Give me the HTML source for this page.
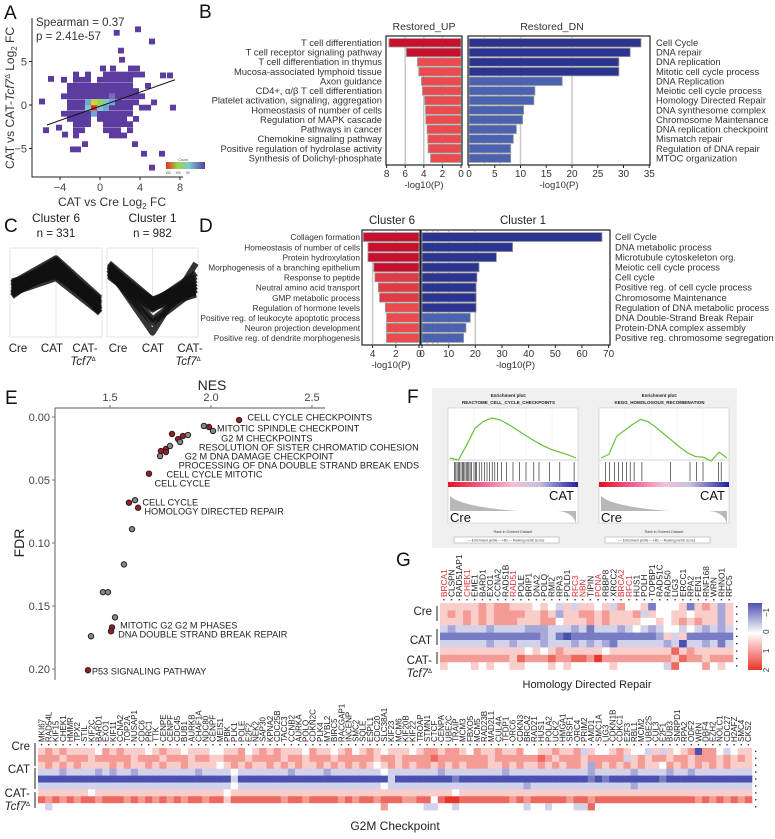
<!DOCTYPE html>
<html><head><meta charset="utf-8">
<style>
html,body{margin:0;padding:0;background:#fff;}
svg{display:block;font-family:"Liberation Sans",Arial,sans-serif;}
</style></head>
<body>
<svg id="fig" width="775" height="839" viewBox="0 0 775 839" xmlns="http://www.w3.org/2000/svg">
<g id="panelA"></g>
<g id="panelB"></g>
<g id="panelC"></g>
<g id="panelD"></g>
<g id="panelE"></g>
<g id="panelF"></g>
<g id="panelG"></g>
<g id="panelH"></g>
</svg>
<script>
// ---------- DATA ----------
const binRows = [
 [4.2,[0.3,1.3,3.1,3.7]],
 [3.5,[-2.4,-1.2,0.6,1.2,1.8,2.4,3.0,3.6,4.2]],
 [2.9,[-3.6,-2.4,-1.8,-1.2,0.0,0.6,1.2,1.8,2.4,3.0]],
 [2.2,[-3.0,-2.4,-1.8,-1.2,-0.6,0.0,0.6,1.2,1.8,2.4,3.0,4.8]],
 [1.6,[-3.0,-2.4,-1.8,-1.2,-0.6,0.0,0.6,1.2,1.8,2.4,3.0,3.6]],
 [1.0,[-3.6,-3.0,-2.4,-1.8,-1.2,-0.6,0.0,0.6,1.2,1.8,2.4,3.0,3.6,4.2]],
 [0.3,[-3.0,-2.4,-1.8,-1.2,-0.6,0.0,0.6,1.2,1.8,2.4,3.0,3.6,5.4]],
 [-0.3,[-3.0,-2.4,-1.8,-1.2,-0.6,0.0,0.6,1.2,1.8,2.4,3.0,4.2,4.8]],
 [-1.0,[-3.6,-3.0,-2.4,-1.8,-1.2,-0.6,0.0,0.6,1.2,1.8,2.4,3.0]],
 [-1.6,[-3.0,-2.4,-1.8,-1.2,0.0,0.6,1.2,1.8,2.4,3.6]],
 [-2.2,[-2.4,-1.8,-1.2,0.6,1.2,1.8,2.4,3.0]],
 [-2.9,[-2.4,-1.8,0.6,1.2,1.8,3.0]],
 [-3.5,[-2.4,1.2,1.8,2.4]]
];
const outX = [1.67,3.8,5.2,2.1,2.2,-4.9,-5.8,-5.4,-4.1,-3.5,-2.2,-2.7,-1.5,3.5,4.4,5.2,6.2,7.3,7.0,6.3];
const outY = [8.3,8.7,7.3,6.25,5.2,3.0,0.4,-2.9,-2.6,-3.4,-5.1,-5.1,-4.5,-4.5,-5.6,-7.2,-5.6,-0.3,3.4,3.4];
const hotX = [-0.6,-0.6,-1.2,0.0,0.6,1.2,0.6,-1.2,0.0,-0.6,1.2];
const hotY = [-0.3,0.3,-0.3,-0.3,0.3,0.3,-0.3,0.3,0.3,-1.0,1.0];
const hotCount = [150,110,70,60,55,45,40,35,80,30,25];
const regX = [-5.3,7.5];
const regY = [-2.3,2.9];
const aTicksX = [-4,0,4,8];
const aTicksY = [-5,0,5];

const bUpTerms = ["T cell differentiation","T cell receptor signaling pathway","T cell differentiation in thymus","Mucosa-associated lymphoid tissue","Axon guidance","CD4+, α/β T cell differentiation","Platelet activation, signaling, aggregation","Homeostasis of number of cells","Regulation of MAPK cascade","Pathways in cancer","Chemokine signaling pathway","Positive regulation of hydrolase activity","Synthesis of Dolichyl-phosphate"];
const bUpVals = [7.75,5.87,4.68,4.54,4.25,4.14,3.89,3.81,3.78,3.64,3.57,3.53,3.27];
const bDnTerms = ["Cell Cycle","DNA repair","DNA replication","Mitotic cell cycle process","DNA Replication","Meiotic cell cycle process","Homology Directed Repair","DNA synthesome complex","Chromosome Maintenance","DNA replication checkpoint","Mismatch repair","Regulation of DNA repair","MTOC organization"];
const bDnVals = [33.4,31.3,29.1,29.1,18.1,12.8,12.6,10.6,10.4,9.2,8.6,8.1,8.1];
const bUpTicks = [8,6,4,2,0];
const bDnTicks = [0,5,10,15,20,25,30,35];

const c6Lines = [[0.2,1.0,-0.3],[0.0,0.95,-0.5],[0.3,0.9,-0.2],[-0.1,0.85,-0.6],[0.25,0.8,-0.35],[0.1,0.75,-0.45],[0.35,0.7,-0.25],[-0.05,0.65,-0.55],[0.15,0.6,-0.4],[0.05,0.55,-0.5],[0.2,0.5,-0.3],[0.3,1.05,-0.15],[0.0,0.45,-0.6]];
const c1Lines = [[0.9,-0.2,0.3],[0.8,-0.25,0.5],[0.7,-0.3,0.1],[0.6,-0.35,0.4],[0.85,-0.4,0.2],[0.55,-0.45,-0.05],[0.75,-0.3,0.6],[0.65,-0.2,0.0],[0.5,-0.5,0.3],[0.6,-0.9,0.1],[0.7,-1.2,0.9],[0.8,-0.8,0.2]];
const cCats = ["Cre","CAT","CAT-"];

const d6Terms = ["Collagen formation","Homeostasis of number of cells","Protein hydroxylation","Morphogenesis of a branching epithelium","Response to peptide","Neutral amino acid transport","GMP metabolic process","Regulation of hormone levels","Positive reg. of leukocyte apoptotic process","Neuron projection development","Positive reg. of dendrite morphogenesis"];
const d6Vals = [4.8,4.4,4.4,3.9,3.8,3.5,3.4,2.9,2.8,2.8,2.8];
const d1Terms = ["Cell Cycle","DNA metabolic process","Microtubule cytoskeleton org.","Meiotic cell cycle process","Cell cycle","Positive reg. of cell cycle process","Chromosome Maintenance","Regulation of DNA metabolic process","DNA Double-Strand Break Repair","Protein-DNA complex assembly","Positive reg. chromosome segregation"];
const d1Vals = [67.5,34,27.9,21.4,20.6,20.3,20.3,20.3,18.1,16.5,15.6];
const d6Ticks = [4,2,0];
const d1Ticks = [0,10,20,30,40,50,60,70];

const eNES = [2.139,1.965,1.990,2.010,1.807,1.837,1.847,1.861,1.886,1.752,1.777,1.777,1.797,1.748,1.693,1.594,1.624,1.639,1.609,1.569,1.465,1.490,1.525,1.510,1.505,1.406,1.391];
const eFDR = [0.0024,0.0071,0.0079,0.0111,0.0135,0.0175,0.0198,0.0151,0.0143,0.027,0.0254,0.0278,0.023,0.031,0.045,0.068,0.066,0.072,0.089,0.117,0.139,0.139,0.159,0.167,0.170,0.174,0.201];
const eRed = [1,0,1,0,1,1,0,1,0,1,1,1,0,0,1,1,0,1,0,0,0,0,0,1,1,0,1];
const eLabels = ["CELL CYCLE CHECKPOINTS","MITOTIC SPINDLE CHECKPOINT","G2 M CHECKPOINTS","RESOLUTION OF SISTER CHROMATID COHESION","G2 M DNA DAMAGE CHECKPOINT","PROCESSING OF DNA DOUBLE STRAND BREAK ENDS","CELL CYCLE MITOTIC","CELL CYCLE","CELL CYCLE","HOMOLOGY DIRECTED REPAIR","MITOTIC G2 G2 M PHASES","DNA DOUBLE STRAND BREAK REPAIR","P53 SIGNALING PATHWAY"];
const eLabNES = [2.18,2.03,2.05,1.94,1.87,1.84,1.78,1.72,1.66,1.67,1.55,1.54,1.41];
const eLabFDR = [0.0,0.0087,0.0167,0.0238,0.031,0.0381,0.0452,0.0524,0.0675,0.0746,0.1651,0.1722,0.2014];
const eNesTicks = [1.5,2.0,2.5];
const eFdrTicks = [0,0.05,0.10,0.15,0.20];

const fEsLeft = [0,-0.03,0.2,0.45,0.55,0.6,0.57,0.5,0.42,0.34,0.26,0.19,0.13,0.09,0.05,0.0];
const fEsRight = [0,0.05,0.3,0.38,0.46,0.53,0.5,0.42,0.33,0.24,0.15,0.07,0.02,0.01,-0.04,0.08,0.0];
const fHitsLeft = [0.05,0.06,0.07,0.08,0.09,0.1,0.11,0.12,0.13,0.14,0.15,0.16,0.17,0.18,0.2,0.21,0.22,0.24,0.26,0.28,0.3,0.32,0.34,0.36,0.38,0.41,0.45,0.5,0.55,0.6,0.66,0.7,0.78,0.86,0.97];
const fHitsRight = [0.05,0.08,0.12,0.15,0.18,0.21,0.24,0.27,0.33,0.55,0.7,0.75,0.8,0.92,0.94];

const gGenes = ["BRCA1","CLSPN","RAD51AP1","CHEK1","EME1","BARD1","EXO1","CCNA2","RAD51B","RAD51","POLE","BRIP1","DNA2","POLQ","RMI2","RPA3","POLD1","RFC3","NBN","TIPIN","PCNA","RBBP8","XRCC2","BRCA2","RFC1","HUS1","POLH","TOPBP1","RAD51C","RAD50","LIG3","ERCC1","RPA2","FEN1","RNF168","WRN","RHNO1","RFC5"];
const gRedGenes = ["BRCA1","CHEK1","RAD51","RFC3","NBN","PCNA","BRCA2","RFC1"];
const gRows = [
 "55555656655545435355453644514445156525",
 "56565656666556525566565556354455455525",
 "55565656665556645556565555445456565525",
 "32333323333222333231333234323443432323",
 "11111111111112310111111111112535111111",
 "33333323323332333232321333333230332313",
 "55555555555454565555545555555575655555",
 "66666666657666766776866666666657665666",
 "54445454455444545444445444444374446454"];
const gBarVals = [-1.5,-1,0,1,2];

const hGenes = ["MKI67","RAD54L","KIF15","CHEK1","HMMR","TPX2","STIL","KIF2C","BARD1","EXO1","KIF11","CCNA2","TOP2A","NUSAP1","CDC6","PRC1","TTK","CENPE","CENPF","CDC45","BUB1","AURKB","CHAF1A","NDC80","CENPF","MEIS1","PBK","PLK1","POLE","E2F2","NEK2","SAP30","KPNA2","CDC25B","TACC3","CCNB2","AURKA","POLQ","CDKN2C","PLK4","MYBL2","BIRC5","RACGAP1","INCENP","SMC2","SQLE","ESPL1","CDC20","SLC38A1","KIF23","MCM6","KIF20B","KIF22","TROAP","STMN1","CTCF","CENPA","UBE2C","TRAIP","MCM3","FBXO5","MCM5","RAD23B","MAD2L1","CUL4A","TFDP1","ORC6","CDKN3","BRCA2","RAD21","HUS1","POLA2","UCK2","HMGA1","SRSF1","ORC4","PRIM2","AMD1","SMC1A","LIG3","CDKN1B","CDKC1","E2F3","RBL1","MCM2","UBE2S","CUL3","E2F1","BUB3","SNRPD1","RPA2","ODF2","WRN","DBF4","EZH2","NOLC1","CDC27","H2AFZ","SMC4","CKS2"];
const hRows = [
 "5656555546565554565545554455645656555465545645654555456656654655655644556556354456544353545606643455",
 "6665666566666566656665665566656666566566656666656656666766666665666666765666566666356566566566656565",
 "5656565555656556565565555456565565656556565656545656566565656665565655656566526565656554656565656555",
 "3332333323233233333333233334333333323333233333334333333323333333323333333333323333323333233233333333",
 "0000000000000000000000000003000000000000000000000300000000100000000000000000010100000001000000000000",
 "3333333333333333333333333334333333333333333333334333333333333333333323333333333333323333333333333333",
 "5555555455555555555555555545555555555555555555555555555555455555555555555555555555555555555555555555",
 "7676767767776767676767767757777777677677776767767776677478877777776767777767767777777777777767676767",
 "4344444444444444444444444444444444444444444444446444443344344444444434434443374444444444444444444444"];

// ---------- HELPERS ----------
const NS = "http://www.w3.org/2000/svg";
function mk(tag, parent, attrs){ const e=document.createElementNS(NS,tag); for(const k in attrs) e.setAttribute(k,attrs[k]); parent.appendChild(e); return e; }
function txt(parent, x, y, s, size, anchor, extra){ const t=mk("text",parent,Object.assign({x:x,y:y,"font-size":size,"text-anchor":anchor||"start",fill:"#222"},extra||{})); t.textContent=s; return t; }
function lerp(a,b,t){return a+(b-a)*t;}
function mixHex(c1,c2,t){ const p=h=>[parseInt(h.substr(1,2),16),parseInt(h.substr(3,2),16),parseInt(h.substr(5,2),16)]; const a=p(c1),b=p(c2); return "rgb("+a.map((v,i)=>Math.round(lerp(v,b[i],t))).join(",")+")"; }
function divColor(v){ const t=Math.min(1,Math.abs(v)/2); return v<0?mixHex("#ffffff","#4b50b0",t):mixHex("#ffffff","#e8362a",t); }
function label(parent,x,y,s){ const t=txt(parent,x,y,s,19,"start",{fill:"#111"});   return t; }

// ---------- PANEL A ----------
(function(){
 const g=document.getElementById("panelA");
 const sx=v=>100+v*10, sy=v=>105-v*8.7;
 label(g,4,19,"A");
 const ax=mk("path",g,{d:"M32,18 V177 H183",stroke:"#222",fill:"none","stroke-width":1});
  
 function countColor(c){ if(c>=130) return "#e8301c"; if(c>=100) return "#c8d838"; if(c>=75) return "#9ad54a"; if(c>=50) return "#7cc8d0"; if(c>=30) return "#6fa6d6"; if(c>=20) return "#7a6cc0"; return "#5c3c9e"; }
 binRows.forEach(r=>{ r[1].forEach(x=>{ const b=mk("rect",g,{x:sx(x)-3,y:sy(r[0])-2.9,width:6,height:5.8,fill:countColor(3)});   }); });
 outX.forEach((x,i)=>{ const b=mk("rect",g,{x:sx(x)-3,y:sy(outY[i])-2.9,width:6,height:5.8,fill:countColor(3)});   });
 hotX.forEach((x,i)=>{ const b=mk("rect",g,{x:sx(x)-3,y:sy(hotY[i])-2.9,width:6,height:5.8,fill:countColor(hotCount[i])});   });
 const rl=mk("line",g,{x1:sx(regX[0]),y1:sy(regY[0]),x2:sx(regX[1]),y2:sy(regY[1]),stroke:"#111","stroke-width":1});
  
 aTicksX.forEach(v=>{ mk("line",g,{x1:sx(v),y1:177,x2:sx(v),y2:180,stroke:"#222"}); const t=txt(g,sx(v),191,String(v).replace("-","−"),11,"middle",{fill:"#444"});   });
 aTicksY.forEach(v=>{ mk("line",g,{x1:29,y1:sy(v),x2:32,y2:sy(v),stroke:"#222"}); const t=txt(g,27,sy(v)+4,String(v).replace("-","−"),11,"end",{fill:"#444"});   });
 const s1=txt(g,36,26,"Spearman = 0.37",11.5,"start",{fill:"#333"});  
 const s2=txt(g,36,40,"p = 2.41e-57",11.5,"start",{fill:"#333"});  
 const xl=mk("text",g,{x:112,y:206,"font-size":12,"text-anchor":"middle",fill:"#333"}); xl.innerHTML='CAT vs Cre Log<tspan font-size="8" dy="3">2</tspan><tspan dy="-3"> FC</tspan>';
  
 const yl=mk("text",g,{x:0,y:0,"font-size":12,"text-anchor":"middle",fill:"#333",transform:"translate(14,98) rotate(-90)"}); yl.innerHTML='CAT vs CAT-<tspan font-style="italic">Tcf7</tspan><tspan font-size="7" dy="-4">Δ</tspan><tspan dy="4"> Log</tspan><tspan font-size="8" dy="3">2</tspan><tspan dy="-3"> FC</tspan>';
  
 const defs=mk("defs",g,{}); const lg=mk("linearGradient",defs,{id:"cntGrad",x1:0,x2:1,y1:0,y2:0});
 [["0","#e8301c"],["0.3","#9ad54a"],["0.6","#7cc8d0"],["1","#5c3c9e"]].forEach(s=>mk("stop",lg,{offset:s[0],"stop-color":s[1]}));
 const cb=mk("rect",g,{x:166,y:162,width:39,height:7,fill:"url(#cntGrad)"});  
 const ct=txt(g,183,161,"Count",3.5,"middle",{fill:"#444"});  
 [["150",168],["100",178],["50",188]].forEach(p=>{const t=txt(g,p[1],174,p[0],3.2,"middle",{fill:"#444"});  });
})();

// ---------- BAR PANEL HELPER ----------
function barPanel(g, cfg){
 const n=cfg.vals.length;
 const box=mk("rect",g,{x:cfg.x0,y:cfg.y0,width:cfg.x1-cfg.x0,height:cfg.y1-cfg.y0,fill:"#fff",stroke:"#222","stroke-width":1.2});
  
 const scale=v=> cfg.reverse ? cfg.x1-1 - v*cfg.k : cfg.x0+1 + v*cfg.k;
 cfg.grid.forEach(v=>{ mk("line",g,{x1:scale(v),x2:scale(v),y1:cfg.y0+1,y2:cfg.y1-1,stroke:"#c8c8c8","stroke-width":1.5}); });
 const step=(cfg.y1-cfg.y0-4)/n;
 cfg.vals.forEach((v,i)=>{
  const y=cfg.y0+2+i*step;
  const w=v*cfg.k; const x=cfg.reverse? scale(v) : cfg.x0+1;
  const r=mk("rect",g,{x:x,y:y+0.6,width:w,height:step-1.2,fill:cfg.colors(i),stroke:"#999","stroke-width":0.8});
   
  if(cfg.terms){ const t=txt(g,cfg.labelX,y+step/2+3.2,cfg.terms[i],cfg.fs,cfg.labelAnchor,{fill:"#333"});   }
 });
 cfg.ticks.forEach(v=>{ const x=scale(v); mk("line",g,{x1:x,x2:x,y1:cfg.y1,y2:cfg.y1+3,stroke:"#222"}); const t=txt(g,x,cfg.y1+12,String(v),10,"middle",{fill:"#333"});   });
 const at=txt(g,(cfg.x0+cfg.x1)/2,cfg.y1+23,"-log10(P)",9.5,"middle",{fill:"#333"});  
}

// ---------- PANEL B ----------
(function(){
 const g=document.getElementById("panelB");
 label(g,199,18,"B");
 barPanel(g,{name:"restored-up",x0:386,x1:462,y0:36,y1:165,vals:bUpVals,k:9.3,reverse:true,grid:[6,4,2],ticks:bUpTicks,terms:bUpTerms,labelX:382,labelAnchor:"end",fs:9.4,colors:i=>i<2?"#c8102e":"#ec4a4e"});
 barPanel(g,{name:"restored-dn",x0:468,x1:650,y0:36,y1:165,vals:bDnVals,k:5.15,reverse:false,grid:[3,6,10,20],ticks:bDnTicks,terms:bDnTerms,labelX:656,labelAnchor:"start",fs:9.4,colors:i=>i<4?"#2b3590":"#4a62b2"});
 const t1=txt(g,424,30,"Restored_UP",10.5,"middle",{fill:"#333"});  
 const t2=txt(g,552,30,"Restored_DN",10.5,"middle",{fill:"#333"});  
})();

// ---------- PANEL C ----------
(function(){
 const g=document.getElementById("panelC");
 label(g,4,232,"C");
 function cl(x0,x1,lines,title,n,yA,yB,lx,tcx){
  const y0=248,y1=337;
  const f=mk("rect",g,{x:x0,y:y0,width:x1-x0,height:y1-y0,fill:"#fff",stroke:"#ddd","stroke-width":0.8});
   
  const sy=v=>lerp(yB,yA,(v+1.3)/2.6);
  const xs=[x0+2,(x0+x1)/2,x1-2];
  mk("line",g,{x1:xs[1],x2:xs[1],y1:y0,y2:y1,stroke:"#e6e6e6"});
  lines.forEach(l=>{ const p=mk("polyline",g,{points:l.map((v,i)=>xs[i]+","+sy(v)).join(" "),fill:"none",stroke:"#111","stroke-width":6,"stroke-linejoin":"round","stroke-opacity":0.85});   });
  const t=txt(g,(x0+x1)/2,222,title,12,"middle",{fill:"#222"});  
  const nn=txt(g,(x0+x1)/2,237,n,11.5,"middle",{fill:"#222"});  
  cCats.forEach((c,i)=>{ const tt=txt(g,lx[i],352,c,11.5,"middle",{fill:"#222"});   });
  const tc=mk("text",g,{x:tcx,y:365,"font-size":11.5,"text-anchor":"middle",fill:"#222","font-style":"italic"}); tc.innerHTML='Tcf7<tspan font-size="6" dy="-4" font-style="normal">Δ</tspan>';
   
 }
 cl(10,102,c6Lines,"Cluster 6","n = 331",250,336,[18,52,85],83);
 cl(107,198,c1Lines,"Cluster 1","n = 982",250,336,[118,153,190],188);
})();

// ---------- PANEL D ----------
(function(){
 const g=document.getElementById("panelD");
 label(g,199,232,"D");
 barPanel(g,{name:"cluster6",x0:362,x1:420,y0:230,y1:345,vals:d6Vals,k:11.6,reverse:true,grid:[4,2],ticks:d6Ticks,terms:d6Terms,labelX:360,labelAnchor:"end",fs:8.3,colors:i=>i<4?"#c8102e":(i<7?"#e03a44":"#ec4a4e")});
 barPanel(g,{name:"cluster1",x0:421,x1:610,y0:230,y1:345,vals:d1Vals,k:2.666,reverse:false,grid:[2,4,6,10,20],ticks:d1Ticks,terms:d1Terms,labelX:615,labelAnchor:"start",fs:9.3,colors:i=>i<8?"#2b3590":"#4a62b2"});
 const t1=txt(g,392,224,"Cluster 6",11.5,"middle",{fill:"#222"});  
 const t2=txt(g,523,224,"Cluster 1",11.5,"middle",{fill:"#222"});  
})();

// ---------- PANEL E ----------
(function(){
 const g=document.getElementById("panelE");
 label(g,5,404,"E");
 const sx=v=>110+(v-1.5)*202, sy=v=>417+v*1260;
 const ax=mk("path",g,{d:"M55,408 H325 M55,408 V680",stroke:"#777",fill:"none","stroke-width":1.2});
  
 eNesTicks.forEach(v=>{ mk("line",g,{x1:sx(v),x2:sx(v),y1:405,y2:408,stroke:"#777"}); const t=txt(g,sx(v),401,v.toFixed(1),11,"middle",{fill:"#444"});   });
 eFdrTicks.forEach(v=>{ mk("line",g,{x1:52,x2:55,y1:sy(v),y2:sy(v),stroke:"#777"}); const t=txt(g,50,sy(v)+4,v.toFixed(2),11,"end",{fill:"#444"});   });
 const nt=txt(g,212,390,"NES",14,"middle",{fill:"#222"});  
 const ft=txt(g,0,0,"FDR",14,"middle",{fill:"#222",transform:"translate(24,543) rotate(-90)"});  
 eNES.forEach((v,i)=>{ const c=mk("circle",g,{cx:sx(v),cy:sy(eFDR[i]),r:2.7,fill:eRed[i]?"#9b1c22":"#888",stroke:"#222","stroke-width":1});   });
 eLabels.forEach((s,i)=>{ const t=txt(g,sx(eLabNES[i]),sy(eLabFDR[i])+3.5,s,9.2,"start",{fill:"#222"});   });
})();

// ---------- PANEL F ----------
(function(){
 const g=document.getElementById("panelF");
 label(g,407,403,"F");
 const bg=mk("rect",g,{x:432,y:388,width:305,height:160,fill:"#f0f0f0"});  
 const defs=mk("defs",g,{}); const lg=mk("linearGradient",defs,{id:"rankGrad",x1:0,x2:1,y1:0,y2:0});
 [["0","#e81020"],["0.3","#f070a0"],["0.5","#f4c0d8"],["0.7","#c8c0e0"],["0.85","#7070c0"],["1","#2020a0"]].forEach(s=>mk("stop",lg,{offset:s[0],"stop-color":s[1]}));
 function gsea(x0,title,es,hits,ymax){
  const x1=x0+145, px0=x0+12, px1=x1-3;
  const tt=txt(g,(x0+x1)/2,397,"Enrichment plot:",4.5,"middle",{"font-weight":"bold"});  
  const tt2=txt(g,(x0+x1)/2,404,title,4.5,"middle",{"font-weight":"bold"});  
  const p=mk("rect",g,{x:px0,y:408,width:px1-px0,height:115,fill:"#fff",stroke:"#bbb","stroke-width":0.5});  
  const sy=v=>458-v/ymax*40;
  for(let k=1;k<5;k++) mk("line",g,{x1:px0+k*(px1-px0)/5,x2:px0+k*(px1-px0)/5,y1:408,y2:460,stroke:"#eee","stroke-width":0.5});
  mk("line",g,{x1:px0,x2:px1,y1:460,y2:460,stroke:"#aaa","stroke-width":0.5});
  const pts=es.map((v,i)=>(px0+2+i*(px1-px0-4)/(es.length-1))+","+sy(v)).join(" ");
  const l=mk("polyline",g,{points:pts,fill:"none",stroke:"#6cbf3a","stroke-width":1.2});  
  hits.forEach(h=>{ const hl=mk("line",g,{x1:px0+h*(px1-px0),x2:px0+h*(px1-px0),y1:462,y2:481,stroke:"#111","stroke-width":0.6});   });
  const gb=mk("rect",g,{x:px0,y:482,width:px1-px0,height:5,fill:"url(#rankGrad)"});  
  const rm=mk("path",g,{d:`M${px0+2},496 C${px0+10},504 ${px0+40},509 ${px0+70},511 L${px1-20},511 C${px1-8},512 ${px1-3},518 ${px1-2},524 L${px1-2},511 L${px0+2},511 Z`,fill:"#b8b8b8"});  
  const c1=txt(g,px1-4,500,"CAT",13,"end",{fill:"#111"});  
  const c2=txt(g,px0+2,522,"Cre",13,"start",{fill:"#111"});  
  const rk=txt(g,(px0+px1)/2,533,"Rank in Ordered Dataset",3.5,"middle",{fill:"#444"});  
  const lb=mk("rect",g,{x:x0+18,y:537,width:105,height:6,fill:"#fff",stroke:"#888","stroke-width":0.4});  
  const lt=txt(g,x0+70,541.5,"— Enrichment profile  — Hits  — Ranking metric scores",3.2,"middle",{fill:"#444"});  
 }
 gsea(436,"REACTOME_CELL_CYCLE_CHECKPOINTS",fEsLeft,fHitsLeft,0.6);
 gsea(587,"KEGG_HOMOLOGOUS_RECOMBINATION",fEsRight,fHitsRight,0.55);
})();

// ---------- HEATMAP HELPER ----------
function heatmap(g,cfg){
 const nC=cfg.genes.length, cw=(cfg.x1-cfg.x0)/nC;
 cfg.rows.forEach((row,r)=>{
  for(let c=0;c<nC;c++){
   const ch=row[c]; const d=(ch===undefined)?4:parseInt(ch,10);
   const v=(d-4)/2;
   const cell=mk("rect",g,{x:cfg.x0+c*cw,y:cfg.y0+r*cfg.rh,width:cw+0.3,height:cfg.rh+0.3,fill:divColor(v)});
    
  }
  const dot=mk("rect",g,{x:cfg.x1+3,y:cfg.y0+r*cfg.rh+cfg.rh/2-0.7,width:1.4,height:1.4,fill:"#333"});  
 });
 cfg.genes.forEach((gn,c)=>{
  const x=cfg.x0+c*cw+cw/2;
  mk("rect",g,{x:x-0.7,y:cfg.y0-4,width:1.4,height:1.4,fill:"#333"});
  const t=txt(g,0,0,gn,cfg.fs,"start",{fill:(cfg.red&&cfg.red.indexOf(gn)>=0)?"#e0303a":"#222",transform:`translate(${x+cfg.fs*0.35},${cfg.y0-6}) rotate(-90)`});
   
 });
 cfg.groups.forEach(gr=>{
  const t=txt(g,cfg.x0-cfg.lblGap,gr[1],gr[0],cfg.lfs,"end",{fill:"#222"});  
  const b=mk("line",g,{x1:cfg.x0-3,x2:cfg.x0-3,y1:gr[2],y2:gr[3],stroke:"#222","stroke-width":1});  
 });
 const tc=mk("text",g,{x:cfg.x0-cfg.lblGap,y:cfg.tcfY,"font-size":cfg.lfs,"text-anchor":"end",fill:"#222","font-style":"italic"}); tc.innerHTML='Tcf7<tspan font-size="6" dy="-4" font-style="normal">Δ</tspan>';
  
}

// ---------- PANEL G ----------
(function(){
 const g=document.getElementById("panelG");
 label(g,396,566,"G");
 heatmap(g,{x0:440,x1:733,y0:603,rh:7.4,rows:gRows,genes:gGenes,red:gRedGenes,fs:8.3,lfs:11.5,lblGap:8,
  groups:[["Cre",615,606,621],["CAT",644,629,645],["CAT-",664,652,664]],tcfY:677});
 const defs=mk("defs",g,{}); const lg=mk("linearGradient",defs,{id:"hmGrad",x1:0,x2:0,y1:0,y2:1});
 [["0","#4b50b0"],["0.45","#ffffff"],["1","#e8362a"]].forEach(s=>mk("stop",lg,{offset:s[0],"stop-color":s[1]}));
 const cb=mk("rect",g,{x:748,y:603,width:14,height:67,fill:"url(#hmGrad)"});  
 gBarVals.slice(1).forEach(v=>{ const y=603+(v+1.5)/3.5*67; const t=txt(g,0,0,String(v).replace("-","−"),8,"middle",{fill:"#333",transform:`translate(769,${y}) rotate(-90)`});   });
 const tt=txt(g,587,688,"Homology Directed Repair",11,"middle",{fill:"#222"});  
})();

// ---------- BOTTOM HEATMAP ----------
(function(){
 const g=document.getElementById("panelH");
 heatmap(g,{x0:38,x1:752,y0:748,rh:6.9,rows:hRows,genes:hGenes,fs:8,lfs:11.5,lblGap:8,
  groups:[["Cre",750,743,766],["CAT",773,768,789],["CAT-",797,792,808]],tcfY:810});
 const tt=txt(g,395,830,"G2M Checkpoint",12,"middle",{fill:"#222"});  
})();
</script>
</body></html>
